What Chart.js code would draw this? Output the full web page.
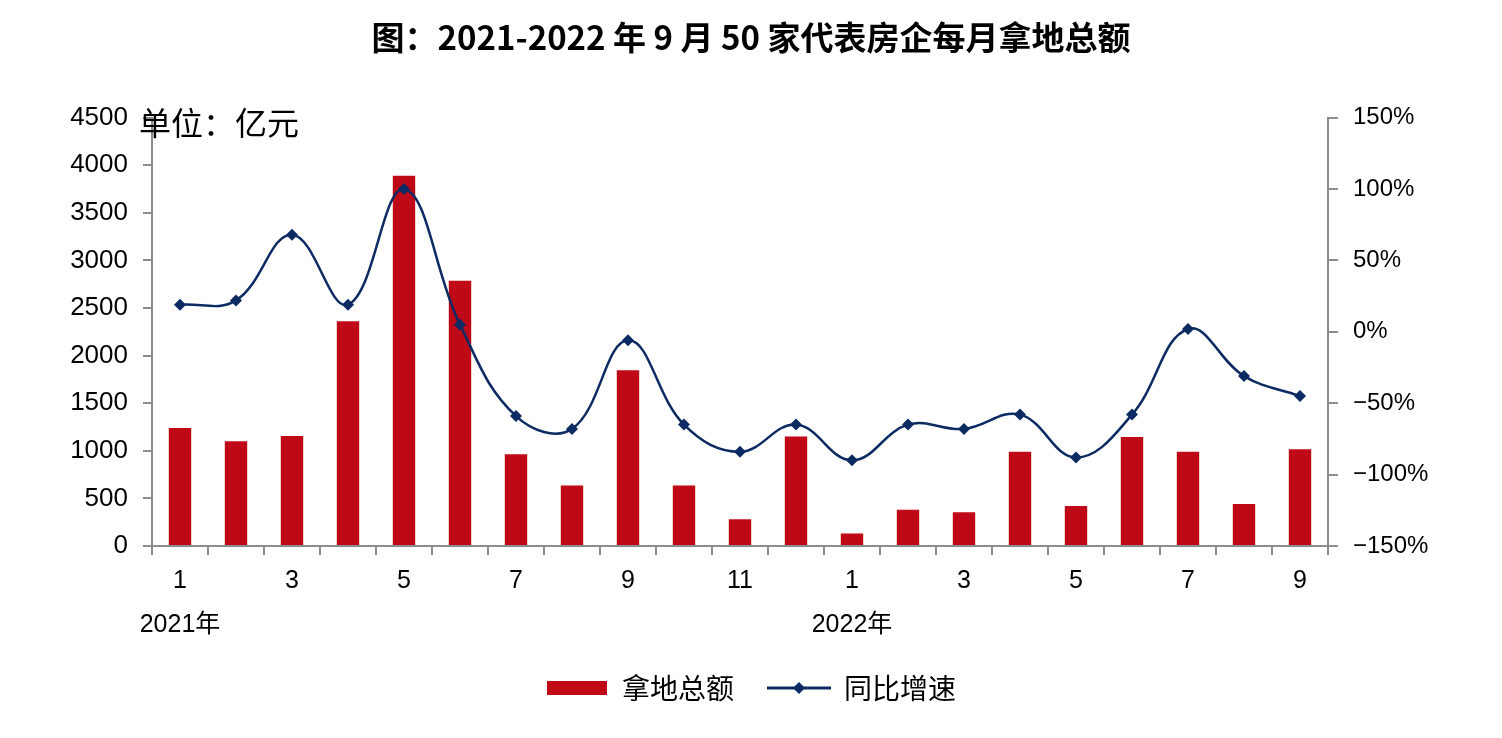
<!DOCTYPE html>
<html lang="zh-CN">
<head>
  <meta charset="UTF-8" />
  <title>50家代表房企每月拿地总额</title>
  <script src="https://cdn.jsdelivr.net/npm/chart.js"></script>
  <style>
    * { margin: 0; padding: 0; box-sizing: border-box; }
    body { background: #fff; }
    .wrap { width: 1502px; height: 738px; position: relative; }
  </style>
</head>
<body>
  <div class="wrap"><canvas id="landChart"></canvas></div>

  <script>
    // data
    const months = ['1','2','3','4','5','6','7','8','9','10','11','12','1','2','3','4','5','6','7','8','9'];
    const years = ['2021年','','','','','','','','','','','','2022年','','','','','','','',''];
    const landAmount = [1240, 1100, 1155, 2360, 3890, 2785, 965, 635, 1845, 635, 280, 1150, 130, 380, 355, 990, 420, 1145, 990, 440, 1015];
    const yoyGrowth = [19, 22, 68, 19, 100, 5, -59, -68, -6, -65, -84, -65, -90, -65, -68, -58, -88, -58, 2, -31, -45];
    const amountTicks = [0, 500, 1000, 1500, 2000, 2500, 3000, 3500, 4000, 4500];
    const growthTicks = [-150, -100, -50, 0, 50, 100, 150];

    const BAR = '#c00917';
    const LINE = '#0d2b63';
    const AXIS = '#8c8c8c';
    const NUM_FONT = '"Liberation Sans", Arial, "Noto Sans CJK SC", sans-serif';
    const CJK_FONT = '"Noto Sans CJK SC", sans-serif';

    // legend swatches
    function barSwatch() {
      const c = document.createElement('canvas');
      c.width = 60; c.height = 14;
      const g = c.getContext('2d');
      g.fillStyle = BAR;
      g.fillRect(0, 0, 60, 14);
      return c;
    }
    function lineSwatch() {
      const c = document.createElement('canvas');
      c.width = 64; c.height = 14;
      const g = c.getContext('2d');
      g.strokeStyle = LINE;
      g.lineWidth = 3;
      g.beginPath(); g.moveTo(0, 7); g.lineTo(64, 7); g.stroke();
      g.fillStyle = LINE;
      g.beginPath(); g.moveTo(32, 1); g.lineTo(38, 7); g.lineTo(32, 13); g.lineTo(26, 7); g.closePath(); g.fill();
      return c;
    }

    const unitLabel = {
      id: 'unitLabel',
      afterDraw(chart) {
        const { ctx, chartArea } = chart;
        ctx.save();
        ctx.font = '32px ' + CJK_FONT;
        ctx.fillStyle = '#000';
        ctx.textBaseline = 'middle';
        ctx.fillText('单位：亿元', chartArea.left - 13, chartArea.top + 5);
        ctx.restore();
      }
    };

    new Chart(document.getElementById('landChart'), {
      type: 'bar',
      data: {
        labels: months,
        datasets: [{
          type: 'line',
          label: '同比增速',
          data: yoyGrowth,
          yAxisID: 'y1',
          borderColor: LINE,
          borderWidth: 2.5,
          tension: 0.4,
          pointStyle: 'rectRot',
          pointRadius: 6,
          pointBackgroundColor: LINE,
          pointBorderWidth: 0,
          order: 0
        }, {
          label: '拿地总额',
          data: landAmount,
          yAxisID: 'y',
          backgroundColor: BAR,
          categoryPercentage: 1,
          barPercentage: 0.4,
          order: 1
        }]
      },
      options: {
        responsive: true,
        maintainAspectRatio: false,
        animation: false,
        layout: { padding: { left: 0, right: 0, bottom: 26 } },
        plugins: {
          tooltip: { enabled: false },
          title: {
            display: true,
            text: '图：2021-2022 年 9 月 50 家代表房企每月拿地总额',
            color: '#000',
            font: { family: CJK_FONT, size: 33, weight: 'bold', lineHeight: 1.2 },
            padding: { top: 18, bottom: 60 }
          },
          legend: {
            position: 'bottom',
            labels: {
              usePointStyle: true,
              pointStyleWidth: 62,
              color: '#000',
              font: { family: CJK_FONT, size: 28 },
              padding: 34,
              generateLabels: () => [
                { text: '拿地总额', pointStyle: barSwatch(), fillStyle: BAR, strokeStyle: BAR, lineWidth: 0, datasetIndex: 1 },
                { text: '同比增速', pointStyle: lineSwatch(), fillStyle: LINE, strokeStyle: LINE, lineWidth: 0, datasetIndex: 0 }
              ]
            }
          }
        },
        scales: {
          x: {
            offset: true,
            afterFit: s => { s.height = 94; },
            grid: { offset: true, drawOnChartArea: false, drawTicks: true, tickLength: 9, color: AXIS, lineWidth: 2 },
            border: { display: true, color: AXIS, width: 2 },
            ticks: {
              autoSkip: false,
              maxRotation: 0,
              padding: 4,
              color: '#000',
              font: { family: NUM_FONT, size: 25, lineHeight: '44px' },
              callback: (v, i) => [i % 2 === 0 ? months[i] : '', years[i]]
            }
          },
          y: {
            position: 'left',
            min: amountTicks[0],
            max: amountTicks[amountTicks.length - 1],
            afterFit: s => { s.width = 152; },
            afterBuildTicks: s => { s.ticks = amountTicks.map(v => ({ value: v })); },
            grid: { drawOnChartArea: false, drawTicks: true, tickLength: 9, color: AXIS, lineWidth: 2 },
            border: { display: true, color: AXIS, width: 2 },
            ticks: { padding: 15, color: '#000', font: { family: NUM_FONT, size: 26 }, callback: v => String(v) }
          },
          y1: {
            position: 'right',
            min: growthTicks[0],
            max: growthTicks[growthTicks.length - 1],
            afterFit: s => { s.width = 174; },
            afterBuildTicks: s => { s.ticks = growthTicks.map(v => ({ value: v })); },
            grid: { drawOnChartArea: false, drawTicks: true, tickLength: 10, color: AXIS, lineWidth: 2 },
            border: { display: true, color: AXIS, width: 2 },
            ticks: {
              padding: 15,
              color: '#000',
              font: { family: NUM_FONT, size: 24 },
              callback: v => (v < 0 ? '\u2212' + Math.abs(v) : v) + '%'
            }
          }
        }
      },
      plugins: [unitLabel]
    });
  </script>
</body>
</html>
